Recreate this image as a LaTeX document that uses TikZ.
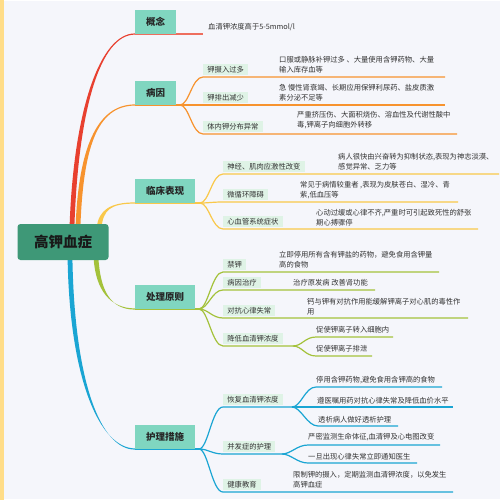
\documentclass[tikz,border=0pt]{standalone}
\usepackage{fontspec}
\setmainfont{Noto Sans CJK SC}
\definecolor{bgc}{HTML}{F5F6FB}
\definecolor{stripc}{HTML}{FFDD88}
\definecolor{maincol}{HTML}{80D6C0}
\definecolor{subcol}{HTML}{DFF3E6}
\definecolor{centcol}{HTML}{3E9877}
\definecolor{darktext}{HTML}{333333}
\definecolor{cred}{HTML}{E8402F}
\definecolor{credl}{HTML}{EE6E5E}
\definecolor{corange}{HTML}{F7932E}
\definecolor{cyellow}{HTML}{F9C84A}
\definecolor{cgreen}{HTML}{A4C23B}
\definecolor{cblue}{HTML}{1AA5D3}
\newcommand\mbranch[9]{\fill[#1] (#2-2.4,#3) .. controls (#4-2.4,#5) and (#6,#7-0.6) .. (#8,#9-0.6) -- (#8,#9+0.6) .. controls (#6,#7+0.6) and (#4+2.4,#5) .. (#2+2.4,#3) -- cycle;}
\newcommand\subline[5]{\draw[#1,subl] (#2) .. controls +(9,0) and +(-11,0) .. (#3,#4) -- (#5,#4);}
\begin{document}
\begin{tikzpicture}[x=1pt,y=-1pt,
  maintopic/.style={fill=maincol, font=\fontsize{9.5}{11}\selectfont\bfseries, text=black!85, minimum height=24pt, inner xsep=11pt, inner ysep=0pt, anchor=south west},
  subtopic/.style={fill=subcol, font=\fontsize{7.3}{9}\selectfont, text=darktext, inner xsep=4.2pt, inner ysep=0pt, minimum height=11pt, text height=6pt, text depth=1.5pt, anchor=south west},
  leaf/.style={font=\fontsize{7.3}{10}\selectfont, text=darktext, align=left, inner sep=0pt, anchor=west},
  subl/.style={line width=1.2pt},
  centre/.style={fill=centcol, rounded corners=3pt, font=\fontsize{14.5}{16}\selectfont\bfseries, text=black!90, minimum width=91pt, minimum height=36pt, inner sep=0pt}
]
\useasboundingbox (0,0) rectangle (500,500);
\fill[bgc] (0,0) rectangle (500,500);
\fill[white] (0,0) rectangle (500,1.5);
\fill[white] (0,498.5) rectangle (500,500);
\fill[stripc] (0,0) rectangle (4,500);

% main branches
\mbranch{cred}{72}{226}{76}{110}{100}{34}{135}{34}
\mbranch{corange}{78}{226}{81}{150}{96}{105}{135}{105}
\mbranch{cyellow}{99}{228}{101}{210}{110}{203}{135}{203}
\mbranch{cgreen}{96}{258}{98}{290}{110}{309}{135}{309}
\mbranch{cblue}{70}{258}{72}{380}{100}{449}{135}{449}

% forks
\coordinate (f1) at (180,105);
\coordinate (f2) at (200,203);
\coordinate (f3) at (199,309);
\coordinate (f4) at (199,449);
\coordinate (f33) at (293,346);
\coordinate (f41) at (292,407);
\coordinate (f42) at (282,454);

% main underlines
\draw[credl,subl] (135,34) -- (203,34);
\draw[corange,subl] (135,105) -- (f1);
\draw[cyellow,subl] (135,203) -- (f2);
\draw[cgreen,subl] (135,309) -- (f3);
\draw[cblue,subl] (135,449) -- (f4);

% sub lines
\subline{corange}{f1}{203}{77}{445}
\subline{corange}{f1}{203}{105}{445}
\subline{corange}{f1}{203}{134}{457}
\subline{cyellow}{f2}{223}{174}{499}
\subline{cyellow}{f2}{223}{202}{458}
\subline{cyellow}{f2}{223}{229}{478}
\subline{cgreen}{f3}{223}{272}{439}
\subline{cgreen}{f3}{223}{290}{375}
\subline{cgreen}{f3}{223}{318}{468}
\subline{cgreen}{f3}{223}{346}{293}
\subline{cgreen}{f33}{316}{337}{393}
\subline{cgreen}{f33}{316}{356}{372}
\subline{cblue}{f4}{223}{407}{292}
\subline{cblue}{f4}{223}{454}{282}
\subline{cblue}{f4}{223}{492}{453}
\subline{cblue}{f41}{316}{387}{442}
\subline{cblue}{f41}{316}{407}{453}
\subline{cblue}{f41}{318}{426}{398}
\subline{cblue}{f42}{308}{445}{440}
\subline{cblue}{f42}{308}{463}{417}

% central
\node[centre] (root) at (63,242) {高钾血症};

% main topics
\node[maintopic] (m1) at (135,34) {概念};
\node[maintopic] (m2) at (135,105) {病因};
\node[maintopic] (m3) at (135,203) {临床表现};
\node[maintopic] (m4) at (135,309) {处理原则};
\node[maintopic] (m5) at (135,449) {护理措施};

% leaf of 概念
\node[leaf] (l1) at (208,27) {血清钾浓度高于5-5mmol/l};

% 病因
\node[subtopic] (s21) at (203,75.5) {钾摄入过多};
\node[subtopic] (s22) at (203,103.5) {钾排出减少};
\node[subtopic] (s23) at (203,132.5) {体内钾分布异常};
\node[leaf] (l21) at (279,65) {口服或静脉补钾过多 、大量使用含钾药物、大量\\输入库存血等};
\node[leaf] (l22) at (279,93) {急 慢性肾衰竭、长期应用保钾利尿药、盐皮质激\\素分泌不足等};
\node[leaf] (l23) at (297,120) {严重挤压伤、大面积烧伤、溶血性及代谢性酸中\\毒,钾离子向细胞外转移};

% 临床表现
\node[subtopic] (s31) at (223,172.5) {神经、肌肉应激性改变};
\node[subtopic] (s32) at (223,200.5) {微循环障碍};
\node[subtopic] (s33) at (223,227.5) {心血管系统症状};
\node[leaf] (l31) at (338,162) {病人很快由兴奋转为抑制状态,表现为神志淡漠、\\感觉异常、乏力等};
\node[leaf] (l32) at (300,190) {常见于病情较重者 ,表现为皮肤苍白、湿冷、青\\紫,低血压等};
\node[leaf] (l33) at (316,218) {心动过缓或心律不齐,严重时可引起致死性的舒张\\期心搏骤停};

% 处理原则
\node[subtopic] (s41) at (223,270.5) {禁钾};
\node[subtopic] (s42) at (223,288.5) {病因治疗};
\node[subtopic] (s43) at (223,316.5) {对抗心律失常};
\node[subtopic] (s44) at (223,344.5) {降低血清钾浓度};
\node[leaf] (l41) at (279,260) {立即停用所有含有钾盐的药物，避免食用含钾量\\高的食物};
\node[leaf] (l42) at (293,283) {治疗原发病 改善肾功能};
\node[leaf] (l43) at (307,307) {钙与钾有对抗作用能缓解钾离子对心肌的毒性作\\用};
\node[leaf] (l441) at (316,329.5) {促使钾离子转入细胞内};
\node[leaf] (l442) at (316,349) {促使钾离子排泄};

% 护理措施
\node[subtopic] (s51) at (223,405.5) {恢复血清钾浓度};
\node[subtopic] (s52) at (223,452.5) {并发症的护理};
\node[subtopic] (s53) at (223,490.5) {健康教育};
\node[leaf] (l511) at (316,380.5) {停用含钾药物,避免食用含钾高的食物};
\node[leaf] (l512) at (317,400.5) {遵医嘱用药对抗心律失常及降低血价水平};
\node[leaf] (l513) at (318,419.5) {透析病人做好透析护理};
\node[leaf] (l521) at (308,437.5) {严密监测生命体征,血清钾及心电图改变};
\node[leaf] (l522) at (308,456.5) {一旦出现心律失常立即通知医生};
\node[leaf] (l53) at (293,480) {限制钾的摄入，定期监测血清钾浓度，以免发生\\高钾血症};
\end{tikzpicture}
\end{document}
